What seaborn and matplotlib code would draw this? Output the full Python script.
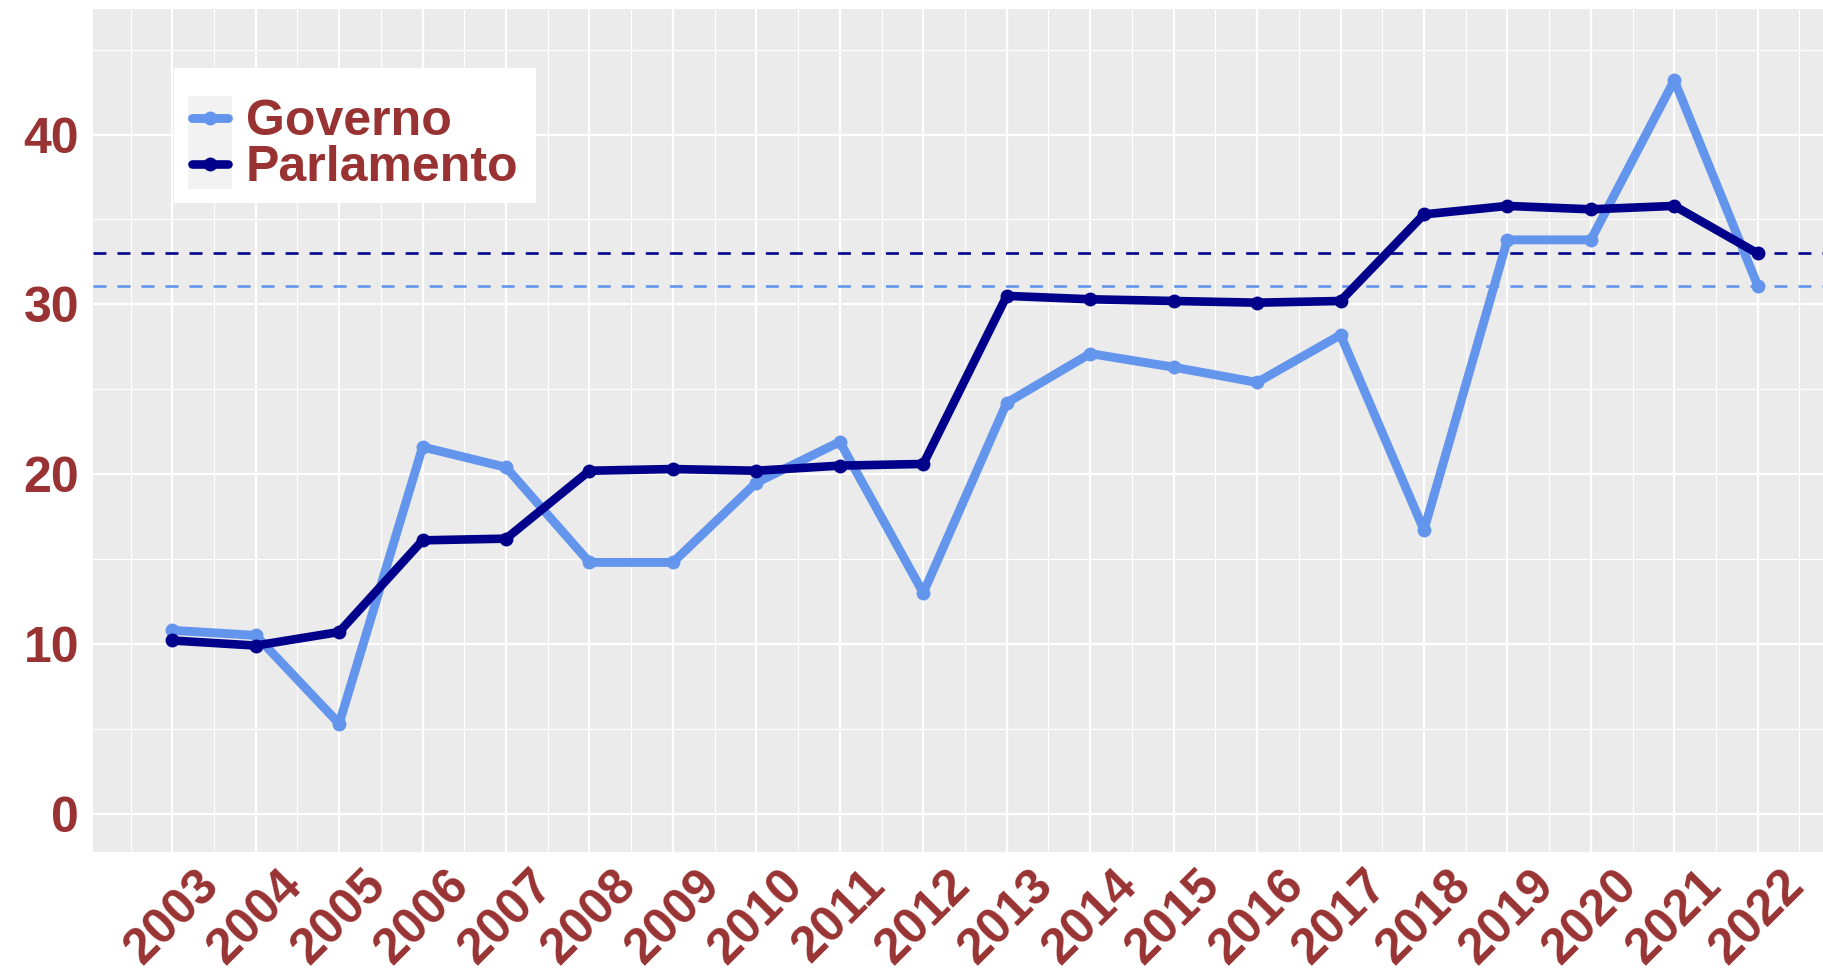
import numpy as np
import pandas as pd
import matplotlib
matplotlib.use("Agg")
import matplotlib.pyplot as plt
from matplotlib.patches import Rectangle
from matplotlib.ticker import MultipleLocator
import seaborn as sns

anni = list(range(2003, 2023))
governo = [10.8, 10.5, 5.3, 21.6, 20.4, 14.8, 14.8, 19.5, 21.9, 13.0,
           24.2, 27.1, 26.3, 25.4, 28.2, 16.7, 33.8, 33.8, 43.2, 31.1]
parlamento = [10.2, 9.9, 10.7, 16.1, 16.2, 20.2, 20.3, 20.2, 20.5, 20.6,
              30.5, 30.3, 30.2, 30.1, 30.2, 35.3, 35.8, 35.6, 35.8, 33.0]
serie = ["Governo", "Parlamento"]
colori = {"Governo": "#6495ED", "Parlamento": "#00008B"}
spessori = {"Governo": 6.4, "Parlamento": 6.2}

df = pd.DataFrame({
    "anno": anni * 2,
    "valore": governo + parlamento,
    "serie": ["Governo"] * len(anni) + ["Parlamento"] * len(anni),
})

sns.set_theme(style="darkgrid", rc={
    "axes.facecolor": "#EBEBEB",
    "grid.color": "white",
})
plt.rcParams["font.family"] = ["Liberation Sans", "DejaVu Sans"]
plt.rcParams["font.weight"] = "bold"

rosso = "#993333"
fs = 36

fig = plt.figure(figsize=(18.23, 9.77), dpi=100)
ax = fig.add_axes([93 / 1823, 125 / 977, 1744 / 1823, 843 / 977])

# linee tratteggiate al valore dell'ultimo anno
ax.axhline(governo[-1], color=colori["Governo"], lw=1.9, ls=(0, (4.9, 4.2)), zorder=2)
ax.axhline(parlamento[-1], color=colori["Parlamento"], lw=1.9, ls=(0, (4.9, 4.2)), zorder=2)

for s in serie:
    sns.lineplot(data=df[df["serie"] == s], x="anno", y="valore",
                 color=colori[s], marker="o", markersize=10, markeredgewidth=0,
                 linewidth=spessori[s], ax=ax, zorder=3)

ax.set_xlim(2002.05, 2022.95)
ax.set_ylim(-2.26, 47.4)
ax.set_xticks(anni)
ax.set_yticks([0, 10, 20, 30, 40])
ax.xaxis.set_minor_locator(MultipleLocator(0.5))
ax.yaxis.set_minor_locator(MultipleLocator(5))
ax.grid(which="major", color="white", lw=1.6)
ax.grid(which="minor", color="white", lw=0.8)
ax.set_axisbelow(True)
for sp in ax.spines.values():
    sp.set_visible(False)

ax.tick_params(which="major", length=5, width=1.3, color="#333333",
               labelsize=fs, labelcolor=rosso, pad=5)
ax.tick_params(which="minor", length=0)
ax.tick_params(axis="x", pad=2)
for lab in ax.get_xticklabels():
    lab.set_rotation(45)
    lab.set_ha("center")
    lab.set_va("top")
    lab.set_fontweight("bold")
for lab in ax.get_yticklabels():
    lab.set_fontweight("bold")
ax.set_xlabel("")
ax.set_ylabel("")

# legenda
ax.add_patch(Rectangle((0.0464, 0.770), 0.2076, 0.160, transform=ax.transAxes,
                       facecolor="white", edgecolor="none", zorder=4))
ax.add_patch(Rectangle((0.0545, 0.786), 0.0252, 0.111, transform=ax.transAxes,
                       facecolor="#F2F2F2", edgecolor="none", zorder=4))
handles = [plt.Line2D([], [], color=colori[s], lw=spessori[s], marker="o",
                      markersize=10, markeredgewidth=0) for s in serie]
leg = ax.legend(handles, serie, loc="upper left", bbox_to_anchor=(0.0568, 0.8932),
                frameon=False, fontsize=fs, handlelength=0.72, handletextpad=0.36,
                labelspacing=0.0, borderpad=0, borderaxespad=0)
for t in leg.get_texts():
    t.set_color(rosso)
    t.set_fontweight("bold")
leg.set_zorder(5)

fig.savefig("out.png", dpi=100)
